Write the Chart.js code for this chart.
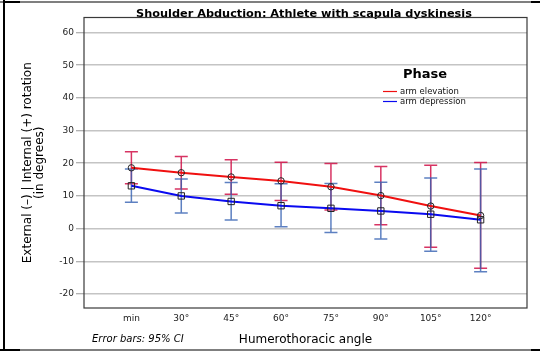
<!DOCTYPE html>
<html>
<head>
<meta charset="utf-8">
<script src="https://cdn.jsdelivr.net/npm/chart.js@4/dist/chart.umd.min.js"></script>
<style>
  html, body { margin: 0; padding: 0; background: #fff; }
  #wrap { width: 540px; height: 351px; position: relative; }
</style>
</head>
<body>
<div id="wrap"><canvas id="chart" width="540" height="351"></canvas></div>
<script>
const angles = ['min', '30°', '45°', '60°', '75°', '90°', '105°', '120°'];
const yTicks = [-20, -10, 0, 10, 20, 30, 40, 50, 60];

// arm elevation: mean and 95% CI
const elevationMean = [18.6, 17.1, 15.8, 14.6, 12.8, 10.1, 6.9, 4.0];
const elevationLow  = [13.7, 12.1, 10.5, 8.6, 5.7, 1.2, -5.7, -12.1];
const elevationHigh = [23.5, 22.1, 21.1, 20.3, 19.9, 19.0, 19.4, 20.2];

// arm depression: mean and 95% CI
const depressionMean = [13.1, 10.0, 8.3, 7.0, 6.2, 5.4, 4.4, 2.7];
const depressionLow  = [8.1, 4.8, 2.6, 0.6, -1.2, -3.2, -6.9, -13.2];
const depressionHigh = [18.2, 15.2, 14.1, 13.7, 13.8, 14.2, 15.5, 18.2];

const FONT = 'DejaVu Sans';
const toPoints = arr => arr.map((v, i) => ({ x: i, y: v }));

const ciBars = [
  { low: elevationLow, high: elevationHigh, color: 'rgba(208,16,72,0.85)' },
  { low: depressionLow, high: depressionHigh, color: 'rgba(52,96,178,0.8)' }
];

// draws the 95% CI whiskers through the chart scales
const errorBars = {
  id: 'errorBars',
  beforeDatasetsDraw(chart) {
    const { ctx, scales: { x, y } } = chart;
    ciBars.forEach(bar => {
      ctx.save();
      ctx.strokeStyle = bar.color;
      ctx.lineWidth = 1.5;
      bar.low.forEach((lo, i) => {
        const px = x.getPixelForValue(i);
        const top = y.getPixelForValue(bar.high[i]);
        const bot = y.getPixelForValue(lo);
        ctx.beginPath();
        ctx.moveTo(px, top); ctx.lineTo(px, bot);
        ctx.moveTo(px - 6.5, top); ctx.lineTo(px + 6.5, top);
        ctx.moveTo(px - 6.5, bot); ctx.lineTo(px + 6.5, bot);
        ctx.stroke();
      });
      ctx.restore();
    });
  }
};

// title, plot frame, legend, footnote and the page edge lines
const decorations = {
  id: 'decorations',
  afterDraw(chart) {
    const { ctx, chartArea: a } = chart;
    ctx.save();

    ctx.fillStyle = '#000';
    ctx.font = 'bold 11.3px "' + FONT + '"';
    ctx.textAlign = 'center';
    ctx.textBaseline = 'alphabetic';
    ctx.fillText('Shoulder Abduction: Athlete with scapula dyskinesis', 304, 16.5);

    ctx.strokeStyle = '#3a3a3a';
    ctx.lineWidth = 1.2;
    ctx.strokeRect(a.left, a.top, a.right - a.left, a.bottom - a.top);

    // legend
    ctx.fillStyle = '#000';
    ctx.font = 'bold 13px "' + FONT + '"';
    ctx.textBaseline = 'middle';
    ctx.fillText('Phase', 425, 75);
    ctx.font = '8.5px "' + FONT + '"';
    ctx.textAlign = 'left';
    chart.data.datasets.forEach((ds, i) => {
      const ly = 91.5 + i * 10;
      ctx.strokeStyle = ds.borderColor;
      ctx.lineWidth = 1.2;
      ctx.beginPath();
      ctx.moveTo(383, ly); ctx.lineTo(397, ly);
      ctx.stroke();
      ctx.fillStyle = '#111';
      ctx.fillText(ds.label, 400, ly);
    });

    // footnote
    ctx.font = 'italic 10px "' + FONT + '"';
    ctx.fillStyle = '#000';
    ctx.fillText('Error bars: 95% CI', 92, 339);

    // page edges
    ctx.fillRect(3, 0, 2, 351);
    ctx.fillRect(0, 1.5, 540, 1);
    ctx.fillRect(3, 1, 17, 2);
    ctx.fillRect(531, 1, 9, 2);
    ctx.fillRect(0, 349.5, 540, 1);
    ctx.fillRect(0, 349, 20, 2);
    ctx.fillRect(531, 349, 9, 2);
    ctx.restore();
  }
};

new Chart(document.getElementById('chart'), {
  type: 'line',
  data: {
    datasets: [
      {
        label: 'arm elevation',
        data: toPoints(elevationMean),
        borderColor: '#f01010',
        borderWidth: 2,
        pointStyle: 'circle',
        pointRadius: 3.2,
        pointBackgroundColor: 'rgba(0,0,0,0)',
        pointBorderColor: '#222',
        pointBorderWidth: 1
      },
      {
        label: 'arm depression',
        data: toPoints(depressionMean),
        borderColor: '#0a0af0',
        borderWidth: 2,
        pointStyle: 'rect',
        pointRadius: 4.5,
        pointBackgroundColor: 'rgba(0,0,0,0)',
        pointBorderColor: '#222',
        pointBorderWidth: 1
      }
    ]
  },
  options: {
    responsive: false,
    animation: false,
    layout: { padding: { left: 0, right: 13, top: 17.5, bottom: 0 } },
    plugins: {
      legend: { display: false },
      tooltip: { enabled: false },
      title: { display: false }
    },
    scales: {
      x: {
        type: 'linear',
        min: -0.95,
        max: 7.93,
        afterBuildTicks: s => { s.ticks = angles.map((_, i) => ({ value: i })); },
        afterFit: s => { s.height = 43; },
        grid: { display: false, drawTicks: false },
        border: { display: false },
        ticks: {
          callback: v => angles[v],
          color: '#222',
          padding: 5,
          maxRotation: 0,
          autoSkip: false,
          font: { family: FONT, size: 9 }
        },
        title: {
          display: true,
          text: 'Humerothoracic angle',
          color: '#000',
          font: { family: FONT, size: 12, lineHeight: 1.2 },
          padding: { top: 0, bottom: 3.5 }
        }
      },
      y: {
        min: -24.3,
        max: 64.6,
        afterBuildTicks: s => { s.ticks = yTicks.map(v => ({ value: v })); },
        afterFit: s => { s.width = 84; },
        grid: {
          color: '#c4c4c4',
          lineWidth: 1.5,
          drawTicks: true,
          tickLength: 8,
          tickColor: '#999',
          tickWidth: 1
        },
        border: { display: false },
        ticks: {
          color: '#222',
          padding: 2,
          font: { family: FONT, size: 9 }
        },
        title: {
          display: true,
          text: ['External (–) | Internal (+) rotation', '(in degrees)'],
          color: '#000',
          font: { family: FONT, size: 12, lineHeight: 1 },
          padding: { top: 22, bottom: 0 }
        }
      }
    }
  },
  plugins: [errorBars, decorations]
});
</script>
</body>
</html>
